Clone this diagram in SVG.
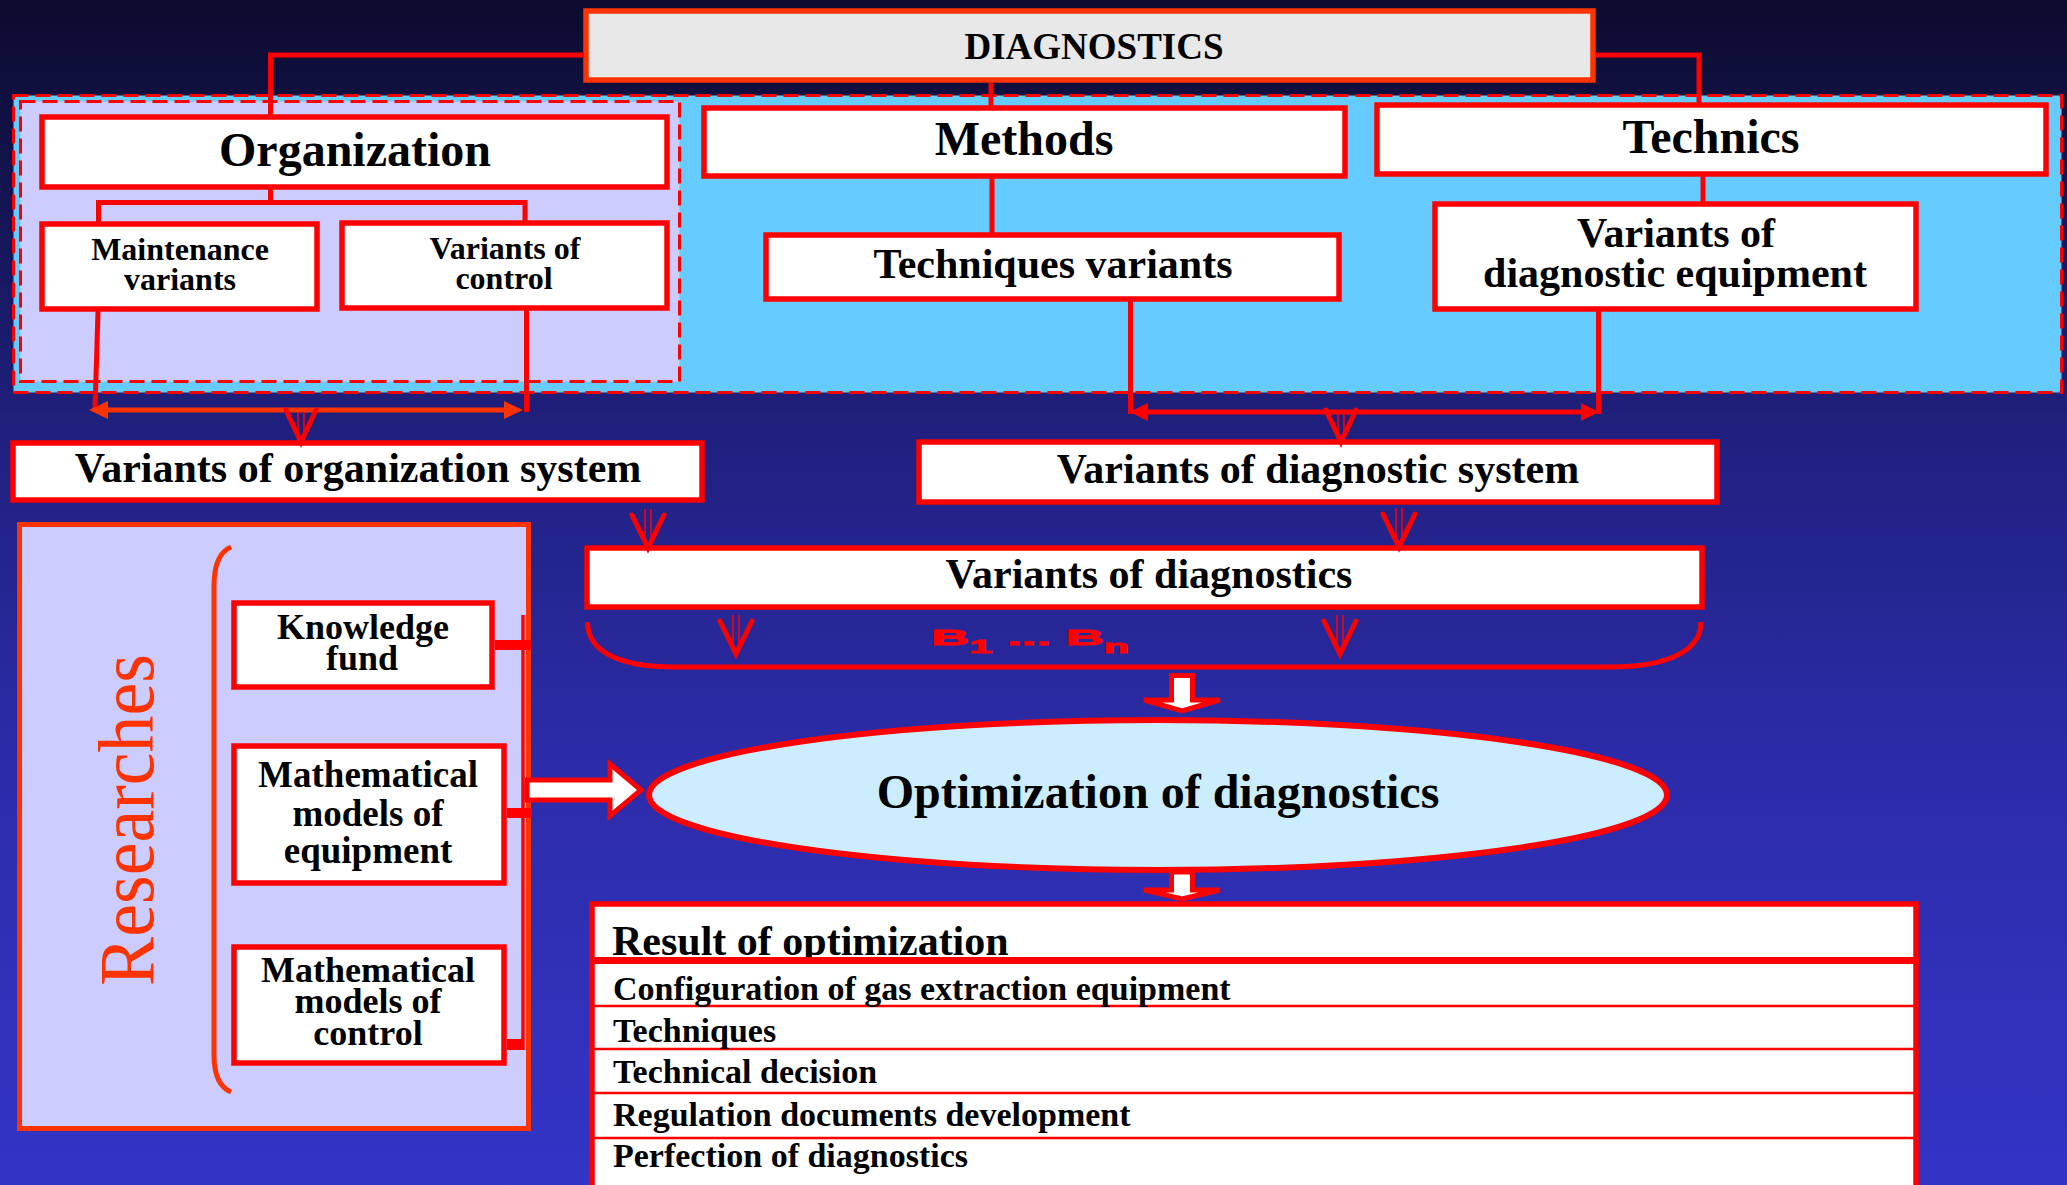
<svg xmlns="http://www.w3.org/2000/svg" width="2067" height="1185" viewBox="0 0 2067 1185">
<defs>
<linearGradient id="bg" x1="0" y1="0" x2="0" y2="1">
<stop offset="0" stop-color="#0B0B2E"/>
<stop offset="0.35" stop-color="#1F1F7C"/>
<stop offset="0.65" stop-color="#2C2CAA"/>
<stop offset="1" stop-color="#3434C6"/>
</linearGradient>
<style>
.box{fill:#fff;stroke:#FF0000;stroke-width:5.5}
.t{font-family:"Liberation Serif","Times New Roman",serif;font-weight:bold;fill:#000;text-anchor:middle}
.tl{font-family:"Liberation Serif","Times New Roman",serif;font-weight:bold;fill:#000}
.ln{fill:none;stroke:#FF0000;stroke-width:5}
.lno{fill:none;stroke:#FF3300;stroke-width:5}
.dash{stroke:#FF0000;stroke-width:3;stroke-dasharray:15 7}
.blk{fill:#fff;stroke:#FF0000;stroke-width:5;stroke-linejoin:miter}
.va{fill:none;stroke:#FF0000;stroke-width:5;stroke-linecap:round;stroke-linejoin:miter}
.vs{fill:none;stroke:#FF0000;stroke-width:1.5}
.row{stroke:#FF0000;stroke-width:2.5}
</style>
<g id="arrS"><path class="vs" d="M-3,-35 V-8 M3,-35 V-8"/><path class="va" d="M-15,-37 L0,-5 L15,-37"/></g>
<g id="arrL"><path class="vs" d="M-3,-44 V-8 M3,-44 V-8"/><path class="va" d="M-16,-38 L0,-5 L16,-38"/></g>
</defs>

<rect x="0" y="0" width="2067" height="1185" fill="url(#bg)"/>

<g id="panels">
<rect x="13.5" y="95.5" width="2048" height="297" fill="#66CCFF" class="dash"/>
<rect x="20.5" y="101.5" width="659" height="280" fill="#CCCCFF" class="dash"/>
</g>

<g id="diagnostics">
<rect x="586" y="11" width="1007" height="69" fill="#E8E8E8" stroke="#FF3300" stroke-width="5.5"/>
<text class="t" x="1094" y="59" font-size="37">DIAGNOSTICS</text>
</g>

<g id="organization">
<rect class="box" x="42" y="117" width="625" height="70"/>
<text class="t" x="355" y="166" font-size="48">Organization</text>
</g>

<g id="maintenance-variants">
<rect class="box" x="42" y="224" width="275" height="85"/>
<text class="t" x="180" y="260" font-size="32">Maintenance</text>
<text class="t" x="180" y="290" font-size="32">variants</text>
</g>

<g id="variants-of-control">
<rect class="box" x="342" y="223" width="325" height="85"/>
<text class="t" x="505" y="259" font-size="32">Variants of</text>
<text class="t" x="504" y="289" font-size="32">control</text>
</g>

<g id="methods">
<rect class="box" x="704" y="108" width="641" height="68"/>
<text class="t" x="1024" y="155" font-size="48">Methods</text>
</g>

<g id="techniques-variants">
<rect class="box" x="766" y="235" width="573" height="64"/>
<text class="t" x="1053" y="278" font-size="42">Techniques variants</text>
</g>

<g id="technics">
<rect class="box" x="1377" y="105" width="669" height="69"/>
<text class="t" x="1711" y="153" font-size="48">Technics</text>
</g>

<g id="variants-diagnostic-equipment">
<rect class="box" x="1435" y="204" width="481" height="105"/>
<text class="t" x="1676" y="247" font-size="42">Variants of</text>
<text class="t" x="1675" y="287" font-size="42">diagnostic equipment</text>
</g>

<g id="variants-organization-system">
<rect class="box" x="13" y="443" width="689" height="57"/>
<text class="t" x="358" y="482" font-size="42">Variants of organization system</text>
</g>

<g id="variants-diagnostic-system">
<rect class="box" x="919" y="442" width="798" height="60"/>
<text class="t" x="1318" y="483" font-size="42">Variants of diagnostic system</text>
</g>

<g id="variants-of-diagnostics">
<rect class="box" x="587" y="548" width="1115" height="59"/>
<text class="t" x="1149" y="588" font-size="42">Variants of diagnostics</text>
</g>

<g id="researches">
<rect x="19.5" y="524.5" width="509" height="604" fill="#CCCCFF" stroke="#FF3300" stroke-width="5"/>
<text transform="translate(153,820) rotate(-90)" x="0" y="0" text-anchor="middle" font-family="Liberation Serif, Times New Roman, serif" font-size="78" fill="#FF3300" textLength="332" lengthAdjust="spacingAndGlyphs">Researches</text>
<path class="lno" d="M231,547 C219,552 214,566 214,586 L214,1055 C214,1075 219,1087 231,1092"/>
</g>

<g id="knowledge-fund">
<rect class="box" x="234" y="603" width="258" height="84"/>
<text class="t" x="363" y="639" font-size="36">Knowledge</text>
<text class="t" x="362" y="670" font-size="36">fund</text>
</g>

<g id="math-models-equipment">
<rect class="box" x="234" y="746" width="270" height="137"/>
<text class="t" x="368" y="787" font-size="37">Mathematical</text>
<text class="t" x="368" y="826" font-size="37">models of</text>
<text class="t" x="368" y="863" font-size="37">equipment</text>
</g>

<g id="math-models-control">
<rect class="box" x="234" y="947" width="270" height="116"/>
<text class="t" x="368" y="982" font-size="36">Mathematical</text>
<text class="t" x="368" y="1013" font-size="36">models of</text>
<text class="t" x="368" y="1045" font-size="36">control</text>
</g>

<g id="optimization">
<ellipse cx="1158" cy="795" rx="509" ry="75" fill="#CCECFF" stroke="#FF0000" stroke-width="6"/>
<text class="t" x="1158" y="808" font-size="48">Optimization of diagnostics</text>
</g>

<g id="result">
<rect class="box" x="592" y="904" width="1324" height="300"/>
<text class="tl" x="612" y="955" font-size="42">Result of optimization</text>
<line x1="589" y1="960.5" x2="1919" y2="960.5" stroke="#FF0000" stroke-width="7"/>
<line class="row" x1="592" y1="1006" x2="1916" y2="1006"/>
<line class="row" x1="592" y1="1049" x2="1916" y2="1049"/>
<line class="row" x1="592" y1="1093" x2="1916" y2="1093"/>
<line class="row" x1="592" y1="1138" x2="1916" y2="1138"/>
<text class="tl" x="613" y="1000" font-size="34">Configuration of gas extraction equipment</text>
<text class="tl" x="613" y="1042" font-size="34">Techniques</text>
<text class="tl" x="613" y="1083" font-size="34">Technical decision</text>
<text class="tl" x="613" y="1126" font-size="34">Regulation documents development</text>
<text class="tl" x="613" y="1167" font-size="34">Perfection of diagnostics</text>
</g>

<g id="connectors">
<path class="ln" d="M584,55 H270.5 V115"/>
<path class="ln" d="M991,83 V106"/>
<path class="ln" d="M1595,55 H1699 V103"/>
<path class="ln" d="M270.5,189 V202.5"/>
<path class="ln" d="M98.5,222 V202.5 H525 V221"/>
<path class="ln" d="M992,178 V233"/>
<path class="ln" d="M1703,176 V202"/>
<path class="ln" d="M98,311 L95,410"/>
<path class="ln" d="M526.5,310 V412"/>
<line class="lno" x1="100" y1="410" x2="512" y2="410"/>
<polygon fill="#FF3300" points="89,410 108,401 108,419"/>
<polygon fill="#FF3300" points="523,410 504,401 504,419"/>
<use href="#arrS" x="301" y="447"/>
<path class="ln" d="M1130.5,301 V414"/>
<path class="ln" d="M1598.5,311 V414"/>
<line class="ln" x1="1140" y1="412" x2="1590" y2="412"/>
<polygon fill="#FF0000" points="1129.5,412 1148,403 1148,421"/>
<polygon fill="#FF0000" points="1599,412 1581,403 1581,421"/>
<use href="#arrS" x="1341" y="447"/>
<use href="#arrL" x="648" y="553"/>
<use href="#arrL" x="1399" y="552"/>
<path class="ln" d="M587.5,622 C587.5,652 620,667 675,667 H1610 C1665,667 1701,652 1701,622"/>
<use href="#arrL" x="736" y="659"/>
<use href="#arrL" x="1340" y="659"/>
<g transform="translate(931,645) scale(2.3,1)" font-family="Liberation Sans, Arial, sans-serif" font-weight="bold" fill="#FF0000" stroke="#FF0000" stroke-width="0.9" font-size="23"><text x="0" y="0">B<tspan dy="8" font-size="18">1</tspan><tspan dy="-8"> ... B</tspan><tspan dy="8" font-size="18">n</tspan></text></g>
<path class="blk" d="M1171.5,675.5 V700 H1144 L1182,711 L1220,700 H1192.5 V675.5 Z"/>
<path class="blk" d="M1171.5,872 V890 H1144 L1182,899 L1220,890 H1192.5 V872 Z"/>
<path class="blk" d="M527,780 H610 V764 L641,790 L610,816 V800 H527 Z"/>
<path d="M523,615 V1050" stroke="#FF0000" stroke-width="3.5" fill="none"/>
<rect x="495" y="640" width="36" height="10" fill="#FF0000"/>
<rect x="507" y="808" width="25" height="10" fill="#FF0000"/>
<rect x="507" y="1039" width="16" height="11" fill="#FF0000"/>
</g>
</svg>
